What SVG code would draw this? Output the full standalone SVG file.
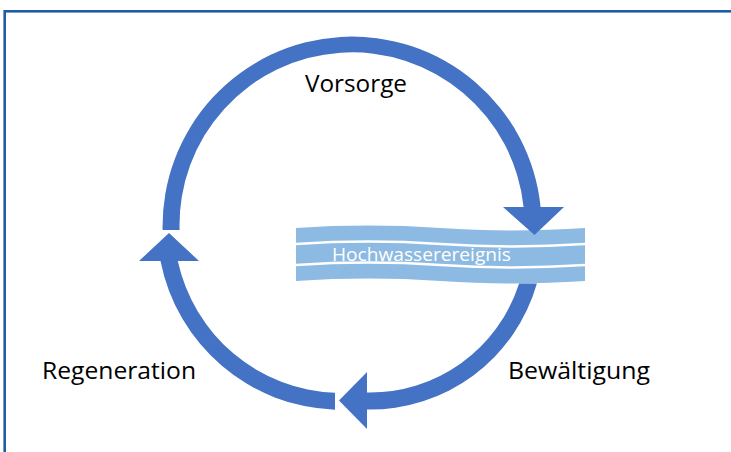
<svg xmlns="http://www.w3.org/2000/svg" width="731" height="452" viewBox="0 0 731 452">
<style>
.lbl{font-family:"Open Sans","Liberation Sans",sans-serif;font-size:24px;fill:#000}
.wlbl{font-family:"Open Sans","Liberation Sans",sans-serif;font-size:18px;fill:#fff}
.arr{fill:#4472C4;stroke:none}
.wline{fill:none;stroke:#fff;stroke-width:2.5}
</style>
<rect x="0" y="0" width="731" height="452" fill="#fff"/>
<rect id="frame" x="4.7" y="11.3" width="800" height="500" fill="none" stroke="#1F5CA8" stroke-width="2.6"/>
<g id="hochwasserereignis">
<path d="M296 228 C344.2 224.7 392.3 224.7 440.5 228 C488.7 231.3 536.8 231.3 585 228 L585 281 C536.8 284.3 488.7 284.3 440.5 281 C392.3 277.7 344.2 277.7 296 281 Z" fill="#8DBAE2"/>
<path class="wline" d="M296 244 C344.2 240.7 392.3 240.7 440.5 244 C488.7 247.3 536.8 247.3 585 244"/>
<path class="wline" d="M296 265 C344.2 261.7 392.3 261.7 440.5 265 C488.7 268.3 536.8 268.3 585 265"/>
<text class="wlbl" x="332" y="261" textLength="179" lengthAdjust="spacingAndGlyphs">Hochwasserereignis</text>
</g>
<g id="vorsorge"><text class="lbl" x="305" y="92" textLength="102" lengthAdjust="spacingAndGlyphs">Vorsorge</text></g>
<g id="bewaeltigung"><text class="lbl" x="508" y="379" textLength="142" lengthAdjust="spacingAndGlyphs">Bewältigung</text></g>
<g id="regeneration"><text class="lbl" x="42" y="379" textLength="154" lengthAdjust="spacingAndGlyphs">Regeneration</text></g>
<g id="connectors">
<path id="arrow-vorsorge" class="arr" d="M162.6 230 A189.5 189.5 0 0 1 540.6 207 L564 207 L534.5 235 L503 207 L523.6 207 A172.5 172.5 0 0 0 179.6 230 Z"/>
<path id="arrow-bewaeltigung" class="arr" d="M536.9 283.5 A173.5 173.5 0 0 1 367 409.5 L367 429 L339 400.5 L367 372 L367 392.5 A156.5 156.5 0 0 0 519.1 283.5 Z"/>
<path id="arrow-regeneration" class="arr" d="M335 409.8 A184.5 184.5 0 0 1 160.5 261 L139 261 L169 233 L199 261 L177.8 261 A167.5 167.5 0 0 0 335 392.8 Z"/>
</g>
</svg>
